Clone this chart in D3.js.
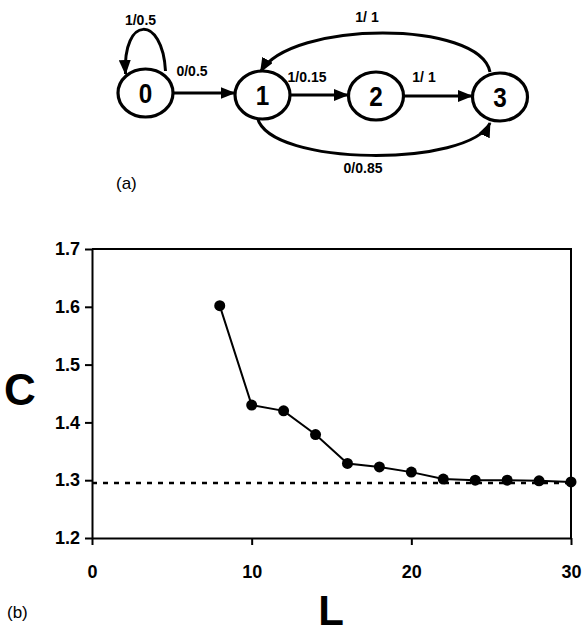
<!DOCTYPE html>
<html>
<head>
<meta charset="utf-8">
<script src="https://cdn.jsdelivr.net/npm/d3@7"></script>
<style>
  body { margin: 0; background: #fff; }
  svg { display: block; font-family: "Liberation Sans", Arial, sans-serif; }
</style>
</head>
<body>
<div id="chart"></div>
<script>
// state diagram (a)
var states = ['0', '1', '2', '3'];
var edges = [
  {from: '0', to: '0', label: '1/0.5', kind: 'loop'},
  {from: '0', to: '1', label: '0/0.5', kind: 'straight'},
  {from: '1', to: '2', label: '1/0.15', kind: 'straight'},
  {from: '2', to: '3', label: '1/ 1', kind: 'straight'},
  {from: '3', to: '1', label: '1/ 1', kind: 'over'},
  {from: '1', to: '3', label: '0/0.85', kind: 'under'}
];

// plot (b)
var L = [8, 10, 12, 14, 16, 18, 20, 22, 24, 26, 28, 30];
var C = [1.602, 1.430, 1.420, 1.379, 1.329, 1.323, 1.314, 1.302, 1.300, 1.300, 1.299, 1.297];
var limitC = 1.295;
var xTicks = [0, 10, 20, 30];
var yTicks = [1.2, 1.3, 1.4, 1.5, 1.6, 1.7];

var W = 585, H = 627;

var svg = d3.select("#chart").append("svg")
    .attr("width", W)
    .attr("height", H);

// ---------- diagram ----------
var nodeX = d3.scaleOrdinal().domain(states).range([145.5, 262.5, 376, 500]);
var nodeY = d3.scaleOrdinal().domain(states).range([93, 95, 96, 97]);

var defs = svg.append("defs");
defs.append("marker")
    .attr("id", "arrow")
    .attr("markerUnits", "userSpaceOnUse")
    .attr("viewBox", "0 0 15 12")
    .attr("refX", 14)
    .attr("refY", 6)
    .attr("markerWidth", 15)
    .attr("markerHeight", 12)
    .attr("orient", "auto")
    .append("path")
    .attr("d", "M0,0 L15,6 L0,12 Z")
    .attr("fill", "black");

var diag = svg.append("g");

function edgePath(e) {
    var x0 = nodeX(e.from), y0 = nodeY(e.from);
    var x1 = nodeX(e.to), y1 = nodeY(e.to);
    if (e.kind == 'loop') {
        return "M" + (x0 + 20) + "," + (y0 - 22) +
            " C" + (x0 + 17) + "," + (y0 - 78) + " " + (x0 - 23) + "," + (y0 - 78) + " " + (x0 - 20) + "," + (y0 - 19);
    }
    if (e.kind == 'straight') {
        // horizontal, at the height of the source node
        return "M" + (x0 + 28) + "," + y0 + " L" + (x1 - 28) + "," + y0;
    }
    if (e.kind == 'over') {
        return "M" + (x0 - 10) + "," + (y0 - 25) +
            " C" + (x0 - 20) + "," + 20 + " " + (x1 + 28) + "," + 20 + " " + (x1 - 2) + "," + (y1 - 23);
    }
    // under
    return "M" + (x0 - 5) + "," + (y0 + 23) +
        " C" + (x0 + 8) + "," + 167 + " " + (x1 - 30) + "," + 167 + " " + (x1 - 10) + "," + (y1 + 26);
}

diag.selectAll("path.edge")
    .data(edges)
    .enter()
    .append("path")
    .attr("class", "edge")
    .attr("d", edgePath)
    .attr("fill", "none")
    .attr("stroke", "black")
    .attr("stroke-width", 3)
    .attr("marker-end", "url(#arrow)");

function labelPos(e) {
    var x0 = nodeX(e.from), x1 = nodeX(e.to);
    if (e.kind == 'loop') return [x0 - 5, 25];
    if (e.kind == 'straight') {
        if (e.from == '0') return [192, 76];
        if (e.from == '1') return [307, 82];
        return [424, 82];
    }
    if (e.kind == 'over') return [367, 22];
    return [363, 173];
}

diag.selectAll("text.elabel")
    .data(edges)
    .enter()
    .append("text")
    .attr("class", "elabel")
    .attr("x", d => labelPos(d)[0])
    .attr("y", d => labelPos(d)[1])
    .attr("text-anchor", "middle")
    .attr("font-size", "14px")
    .attr("font-weight", "bold")
    .text(d => d.label);

var nodes = diag.selectAll("g.node")
    .data(states)
    .enter()
    .append("g")
    .attr("class", "node")
    .attr("transform", d => "translate(" + nodeX(d) + "," + nodeY(d) + ")");

nodes.append("ellipse")
    .attr("rx", 27.5)
    .attr("ry", 24)
    .attr("fill", "white")
    .attr("stroke", "black")
    .attr("stroke-width", 3.2);

nodes.append("text")
    .attr("text-anchor", "middle")
    .attr("y", 10)
    .attr("font-size", "27px")
    .attr("font-weight", "bold")
    .attr("transform", "scale(0.9,1)")
    .text(d => d);

svg.append("text")
    .attr("x", 116)
    .attr("y", 189)
    .attr("font-size", "17px")
    .text("(a)");

// ---------- plot ----------
var x = d3.scaleLinear().domain([0, 30]).range([92, 571]);
var y = d3.scaleLinear().domain([1.2, 1.7]).range([538, 249]);

var plot = svg.append("g");

// frame (top and right)
plot.append("path")
    .attr("d", "M" + x(0) + "," + y(1.7) + " H" + x(30) + " V" + y(1.2))
    .attr("fill", "none")
    .attr("stroke", "black")
    .attr("stroke-width", 2);

plot.append("g")
    .attr("transform", "translate(" + x(0) + ",0)")
    .call(d3.axisLeft(y).tickValues(yTicks).tickFormat(d3.format(".1f")).tickSize(7).tickSizeOuter(0).tickPadding(5));

plot.append("g")
    .attr("transform", "translate(0," + y(1.2) + ")")
    .call(d3.axisBottom(x).tickValues(xTicks).tickSize(7).tickSizeOuter(0).tickPadding(20));

plot.selectAll(".domain").attr("stroke-width", 2);
plot.selectAll(".tick line").attr("stroke-width", 2);
plot.selectAll(".tick text")
    .attr("font-family", "'Liberation Sans', Arial, sans-serif")
    .attr("font-size", "18px")
    .attr("font-weight", "bold")
    .attr("fill", "black");

// asymptote
plot.append("line")
    .attr("x1", x(0))
    .attr("x2", x(30))
    .attr("y1", y(limitC))
    .attr("y2", y(limitC))
    .attr("stroke", "black")
    .attr("stroke-width", 2.5)
    .attr("stroke-dasharray", "5,6");

var pts = L.map((l, i) => [l, C[i]]);

plot.append("path")
    .datum(pts)
    .attr("d", d3.line().x(d => x(d[0])).y(d => y(d[1])))
    .attr("fill", "none")
    .attr("stroke", "black")
    .attr("stroke-width", 2);

plot.selectAll("circle")
    .data(pts)
    .enter()
    .append("circle")
    .attr("cx", d => x(d[0]))
    .attr("cy", d => y(d[1]))
    .attr("r", 5.5)
    .attr("fill", "black");

// axis titles
svg.append("text")
    .attr("x", 20)
    .attr("y", 405)
    .attr("text-anchor", "middle")
    .attr("font-size", "44px")
    .attr("font-weight", "bold")
    .text("C");

svg.append("text")
    .attr("x", 331)
    .attr("y", 625)
    .attr("text-anchor", "middle")
    .attr("font-size", "42px")
    .attr("font-weight", "bold")
    .text("L");

svg.append("text")
    .attr("x", 7)
    .attr("y", 618)
    .attr("font-size", "17px")
    .text("(b)");
</script>
</body>
</html>
